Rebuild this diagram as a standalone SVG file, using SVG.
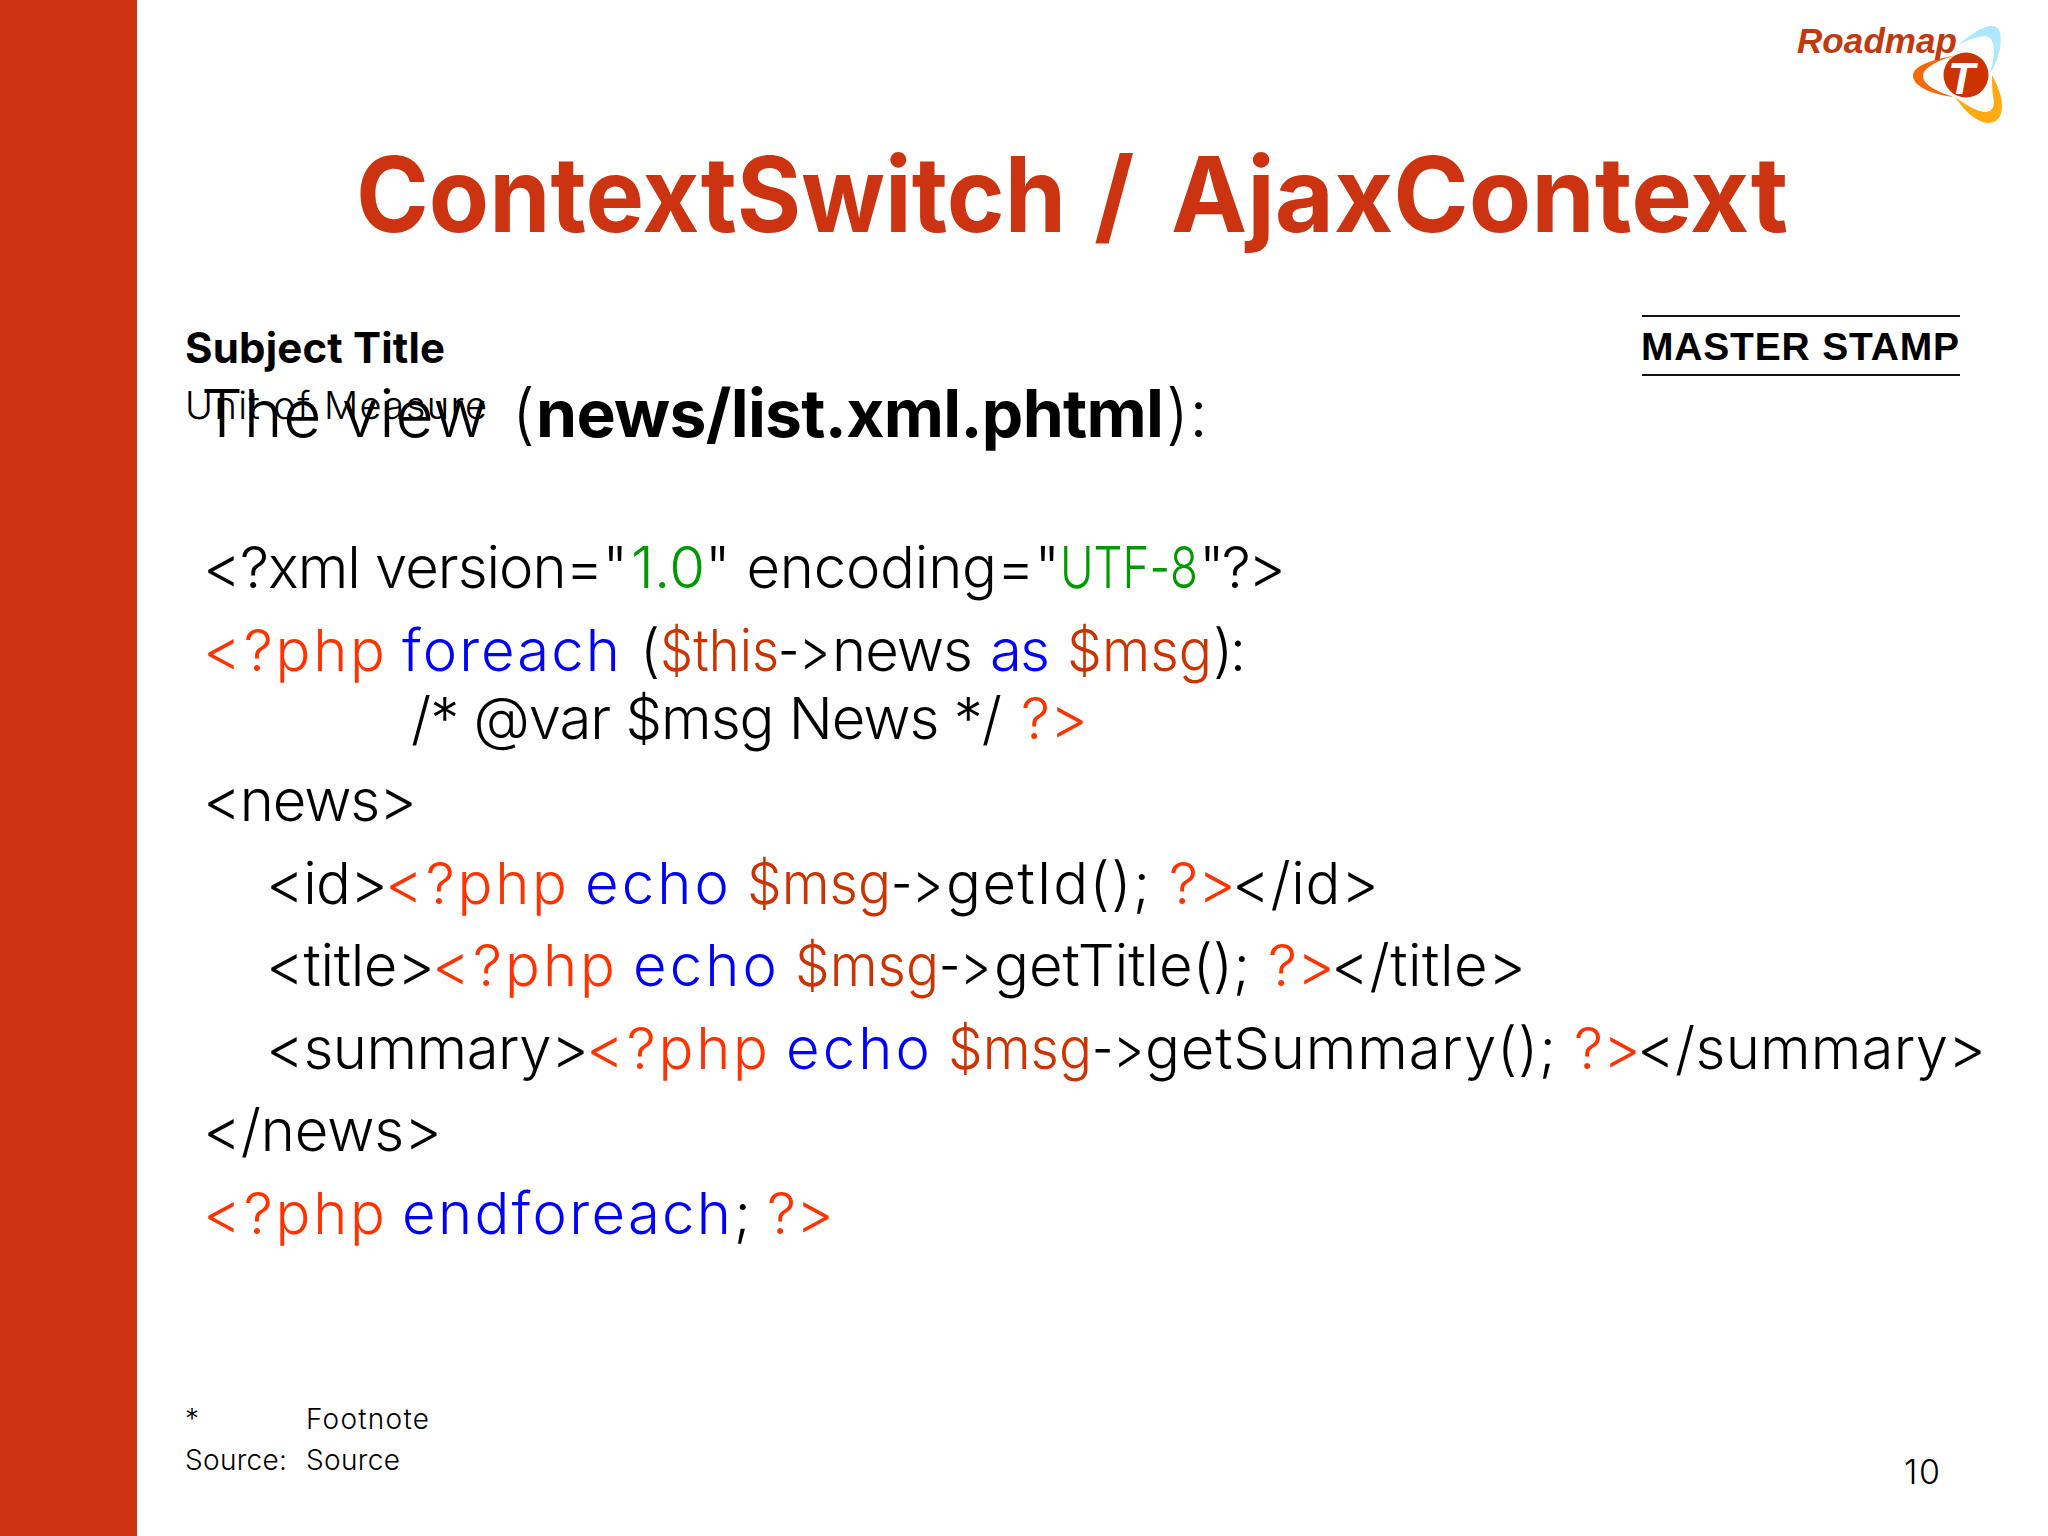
<svg xmlns="http://www.w3.org/2000/svg" width="2048" height="1536" viewBox="0 0 2048 1536">
<style>
text{font-family:"Inter","Open Sans","DejaVu Sans",sans-serif;white-space:pre;fill:#000;font-variant-ligatures:none;font-feature-settings:"liga" 0,"calt" 0}
.c{font-size:58px;font-weight:300}
.r{fill:#ff3300}.b{fill:#0000ff}.o{fill:#cc3300}.g{fill:#009900}
.s{font-size:28px;font-weight:300}
</style>
<rect width="2048" height="1536" fill="#fff"/>
<rect id="band" width="137" height="1536" fill="#cc3311"/>
<g id="logo">
<path d="M1958 45C1972 33 1985 25 1993 26C2003 27 2002 45 1998 56C1996 63 1993 69 1990 73C1994 60 1996 46 1991 39C1986 33 1972 38 1958 45Z" fill="#aee8ff"/>
<path d="M1957 55C1930 60 1913 66 1913 76C1913 87 1935 95 1954 97C1938 92 1923 85 1923 76C1923 68 1938 60 1957 55Z" fill="#f26a0a"/>
<path d="M1992 75C1997 85 2002 95 2002 106C2002 118 1996 123 1988 123C1975 122 1964 110 1955 97C1966 105 1977 112 1986 112C1994 112 1995 103 1993 96C1992 89 1992 82 1992 75Z" fill="#ffaa10"/>
<circle cx="1966" cy="75" r="22.5" fill="#cc3300"/>
<text x="1948" y="94" font-size="44" font-weight="700" font-style="italic" style="fill:#fff;font-family:'Liberation Sans',sans-serif">T</text>
<text x="1797" y="53" font-size="35" font-weight="700" font-style="italic" textLength="160" style="fill:#c03a10;font-family:'Liberation Sans',sans-serif">Roadmap</text>
</g>
<text id="title" y="232" font-size="104" font-weight="700" style="fill:#cc3311"><tspan x="356" textLength="710" lengthAdjust="spacingAndGlyphs">ContextSwitch</tspan><tspan x="1094">/</tspan><tspan x="1171" textLength="617" lengthAdjust="spacingAndGlyphs">AjaxContext</tspan></text>
<text id="subject" x="185" y="363" font-size="42" font-weight="700" textLength="260">Subject Title</text>
<text id="unit" x="185" y="419" font-size="38" font-weight="300" textLength="302">Unit of Measure</text>
<text id="heading" y="437" font-size="66"><tspan x="201" textLength="286" font-weight="300">The view</tspan><tspan x="512" font-weight="300">(</tspan><tspan x="536" textLength="628" font-weight="700">news/list.xml.phtml</tspan><tspan x="1166" textLength="42" font-weight="300">):</tspan></text>
<g id="code">
<text class="c" y="588"><tspan x="203" textLength="425">&lt;?xml version="</tspan><tspan x="631" textLength="74" class="g">1.0</tspan><tspan x="705" textLength="355">" encoding="</tspan><tspan x="1060" textLength="138" lengthAdjust="spacingAndGlyphs" class="g">UTF-8</tspan><tspan x="1199" textLength="87">"?&gt;</tspan></text>
<text class="c" y="671"><tspan x="203" textLength="182" class="r">&lt;?php</tspan><tspan x="402" textLength="218" class="b">foreach</tspan><tspan x="640">(</tspan><tspan x="660" textLength="119" lengthAdjust="spacingAndGlyphs" class="o">$this</tspan><tspan x="778" textLength="52" lengthAdjust="spacingAndGlyphs">-&gt;</tspan><tspan x="832" textLength="141">news</tspan><tspan x="990" textLength="60" class="b">as</tspan><tspan x="1067" textLength="145" lengthAdjust="spacingAndGlyphs" class="o">$msg</tspan><tspan x="1213" textLength="33">):</tspan></text>
<text class="c" y="739"><tspan x="411" textLength="591">/* @var $msg News */</tspan><tspan x="1021" textLength="67" class="r">?&gt;</tspan></text>
<text class="c" y="821" x="203" textLength="214">&lt;news&gt;</text>
<text class="c" y="904"><tspan x="266" textLength="122">&lt;id&gt;</tspan><tspan x="385" textLength="182" class="r">&lt;?php</tspan><tspan x="585" textLength="144" class="b">echo</tspan><tspan x="747" textLength="144" lengthAdjust="spacingAndGlyphs" class="o">$msg</tspan><tspan x="891" textLength="52" lengthAdjust="spacingAndGlyphs">-&gt;</tspan><tspan x="946" textLength="204">getId();</tspan><tspan x="1169" textLength="67" class="r">?&gt;</tspan><tspan x="1232" textLength="147">&lt;/id&gt;</tspan></text>
<text class="c" y="986"><tspan x="266" textLength="169">&lt;title&gt;</tspan><tspan x="432" textLength="183" class="r">&lt;?php</tspan><tspan x="633" textLength="144" class="b">echo</tspan><tspan x="795" textLength="144" lengthAdjust="spacingAndGlyphs" class="o">$msg</tspan><tspan x="939" textLength="52" lengthAdjust="spacingAndGlyphs">-&gt;</tspan><tspan x="994" textLength="256">getTitle();</tspan><tspan x="1268" textLength="67" class="r">?&gt;</tspan><tspan x="1331" textLength="195">&lt;/title&gt;</tspan></text>
<text class="c" y="1069"><tspan x="266" textLength="323">&lt;summary&gt;</tspan><tspan x="586" textLength="182" class="r">&lt;?php</tspan><tspan x="786" textLength="144" class="b">echo</tspan><tspan x="948" textLength="144" lengthAdjust="spacingAndGlyphs" class="o">$msg</tspan><tspan x="1092" textLength="52" lengthAdjust="spacingAndGlyphs">-&gt;</tspan><tspan x="1145" textLength="411">getSummary();</tspan><tspan x="1574" textLength="67" class="r">?&gt;</tspan><tspan x="1637" textLength="349">&lt;/summary&gt;</tspan></text>
<text class="c" y="1151" x="203" textLength="239">&lt;/news&gt;</text>
<text class="c" y="1234"><tspan x="203" textLength="182" class="r">&lt;?php</tspan><tspan x="402" textLength="329" class="b">endforeach</tspan><tspan x="734">;</tspan><tspan x="767" textLength="67" class="r">?&gt;</tspan></text>
</g>
<g id="stamp">
<path d="M1642 316H1960M1642 375H1960" stroke="#111" stroke-width="2"/>
<text x="1641" y="360" font-size="39" font-weight="700" textLength="318" style="font-family:'Liberation Sans',sans-serif">MASTER STAMP</text>
</g>
<g id="notes">
<text class="s" x="185" y="1429">*</text><text class="s" x="306" y="1429" textLength="123">Footnote</text>
<text class="s" x="185" y="1470" textLength="102">Source:</text><text class="s" x="306" y="1470" textLength="94">Source</text>
<text x="1904" y="1484" font-size="34" font-weight="300" textLength="36">10</text>
</g>
</svg>
